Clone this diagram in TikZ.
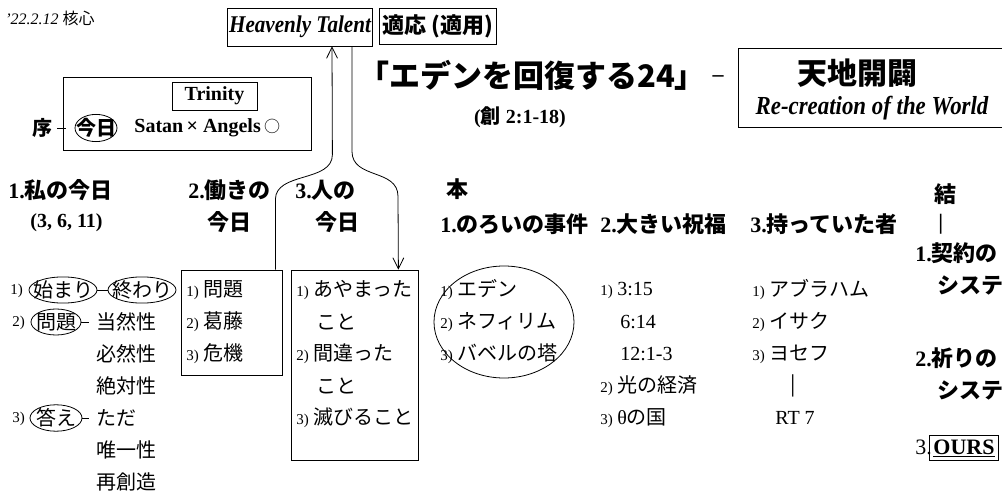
\documentclass[tikz,border=0pt]{standalone}
\usepackage{fontspec}
\setmainfont{Liberation Serif}
\newfontfamily\jp{Noto Sans CJK JP}
\newfontfamily\narrow[FakeStretch=0.88]{Liberation Serif}
\usetikzlibrary{shapes.geometric,arrows.meta}
\newcommand{\nb}[1]{{\rmfamily\fontsize{15}{16}\selectfont #1)}}

\begin{document}
\begin{tikzpicture}[x=1pt,y=-1pt, line width=0.8pt,
	every node/.style={inner sep=0pt},
	txt/.style={anchor=west,font=\fontsize{20}{22}\selectfont\jp},
	head/.style={anchor=west,font=\fontsize{22}{24}\selectfont\bfseries},
	box/.style={draw,inner sep=3pt},
	oval/.style={draw,ellipse,inner xsep=-8pt,inner ysep=0pt,font=\fontsize{20}{22}\selectfont\jp},
	arr/.style={-{Straight Barb[length=11pt,width=11pt]}}]

	\useasboundingbox (0,0) rectangle (1002,495);

	% top line
	\node[anchor=west,font=\fontsize{16}{18}\selectfont\itshape] (date) at (5,18) {’22.2.12 {\jp\upshape 核心}};
	\node[box,inner xsep=2pt,minimum width=144,minimum height=38,font=\narrow\fontsize{24}{26}\selectfont\bfseries\itshape] (ht) at (300,27) {Heavenly Talent};
	\node[box,minimum width=114,minimum height=36,font=\fontsize{22}{24}\selectfont\bfseries\jp] (tekio) at (438,26) {適応 (適用)};
	\node[font=\fontsize{31}{33}\selectfont\bfseries\jp] (title) at (532,75) {「エデンを回復する24」};
	\node[font=\fontsize{22}{24}\selectfont\bfseries] (dash) at (718,79) {–};
	\node[box,minimum width=274,minimum height=79] (sozo) at (875,87.5) {};
	\node[font=\fontsize{30}{32}\selectfont\bfseries\jp] (tenchi) at (857,73) {天地開闢};
	\node[font=\narrow\fontsize{26}{28}\selectfont\bfseries\itshape] (recre) at (872,108) {Re-creation of the World};
	\node[font=\fontsize{20}{22}\selectfont\bfseries] (ref) at (520,117) {({\jp 創} 2:1-18)};

	% intro
	\node[box,minimum width=248,minimum height=73] (intro) at (187,113.5) {};
	\node[box,minimum width=85,minimum height=28,font=\fontsize{20}{22}\selectfont\bfseries] (trin) at (214.5,96) {Trinity};
	\node[font=\fontsize{20}{22}\selectfont\bfseries\jp] (jo) at (42,128) {序};
	\draw ([xshift=5pt]jo.east) -- ([xshift=3pt]jo.east -| intro.west);
	\node[oval,minimum width=42,minimum height=27,font=\fontsize{20}{22}\selectfont\bfseries\jp] (kyo) at (96,128) {今日};
	\node[anchor=west,font=\fontsize{20}{22}\selectfont\bfseries] (sa) at (134,128) {Satan\,× Angels\,{\jp\mdseries\fontsize{16}{18}\selectfont ○}};

	% headings
	\node[head] (h1) at (8,190) {1.{\jp 私の今日}};
	\node[head,font=\fontsize{20}{22}\selectfont\bfseries] (h1b) at (30,223) {(3, 6, 11)};
	\node[head] (h2) at (188,190) {2.{\jp 働きの}};
	\node[head] (h2b) at (207,222) {\jp 今日};
	\node[head] (h3) at (295,190) {3.{\jp 人の}};
	\node[head] (h3b) at (315,222) {\jp 今日};
	\node[head] (hon) at (446,189) {\jp 本};
	\node[head] (b1) at (440,224) {1.{\jp のろいの事件}};
	\node[head] (b2) at (600,224) {2.{\jp 大きい祝福}};
	\node[head] (b3) at (750,224) {3.{\jp 持っていた者}};
	\node[head] (ketsu) at (934,194) {\jp 結};
	\node[head] (bar) at (938,224) {|};
	\node[head] (k1) at (915,253) {1.{\jp 契約の}};
	\node[head] (k1b) at (937,285) {\jp システム};
	\node[head] (k2) at (915,358) {2.{\jp 祈りの}};
	\node[head] (k2b) at (937,390) {\jp システム};
	\node[head,font=\fontsize{22}{24}\selectfont] (k3) at (915,447) {3.};
	\node[box,anchor=west,inner sep=4pt,font=\fontsize{22}{24}\selectfont\bfseries] (ours) at (929,448) {\underline{OURS}};

	% column 1
	\node[txt] (n1) at (10,291) {\nb{1}};
	\node[oval,minimum width=68,minimum height=26] (hajime) at (63,290) {始まり};
	\node[oval,minimum width=68,minimum height=26] (owari) at (142,290) {終わり};
	\draw (hajime) -- (owari);
	\node[txt] (n2) at (12,323) {\nb{2}};
	\node[oval,minimum width=50,minimum height=26] (mon) at (56,322) {問題};
	\node[txt] (p1) at (96,322) {当然性};
	\draw (mon) -- ([xshift=-7pt]p1.west);
	\node[txt] (p2) at (96,354) {必然性};
	\node[txt] (p3) at (96,386) {絶対性};
	\node[txt] (n3) at (12,419) {\nb{3}};
	\node[oval,minimum width=52,minimum height=26] (kotae) at (56,418) {答え};
	\node[txt] (q1) at (96,418) {ただ};
	\draw (kotae) -- ([xshift=-7pt]q1.west);
	\node[txt] (q2) at (96,450) {唯一性};
	\node[txt] (q3) at (96,482) {再創造};

	% column 2 and 3
	\node[box,minimum width=101,minimum height=105] (work) at (231.5,322.5) {};
	\node[txt] (w1) at (186,290) {\nb{1} 問題};
	\node[txt] (w2) at (186,322) {\nb{2} 葛藤};
	\node[txt] (w3) at (186,354) {\nb{3} 危機};
	\node[box,minimum width=127,minimum height=190] (hum) at (354.5,365) {};
	\node[txt] (m1) at (296,290) {\nb{1} あやまった};
	\node[txt] (m1b) at (316,322) {こと};
	\node[txt] (m2) at (296,354) {\nb{2} 間違った};
	\node[txt] (m2b) at (316,386) {こと};
	\node[txt] (m3) at (296,418) {\nb{3} 滅びること};

	% main body
	\node[draw,ellipse,minimum width=140,minimum height=112] (curse) at (504,322) {};
	\node[txt] (c1) at (440,290) {\nb{1} エデン};
	\node[txt] (c2) at (440,322) {\nb{2} ネフィリム};
	\node[txt] (c3) at (440,354) {\nb{3} バベルの塔};
	\node[txt] (s1) at (600,290) {\nb{1} {\rmfamily 3:15}};
	\node[txt,font=\fontsize{20}{22}\selectfont] (s1b) at (620,322) {6:14};
	\node[txt,font=\fontsize{20}{22}\selectfont] (s1c) at (620,354) {12:1-3};
	\node[txt] (s2) at (600,386) {\nb{2} 光の経済};
	\node[txt] (s3) at (600,418) {\nb{3} {\rmfamily θ}の国};
	\node[txt] (r1) at (752,290) {\nb{1} アブラハム};
	\node[txt] (r2) at (752,322) {\nb{2} イサク};
	\node[txt] (r3) at (752,354) {\nb{3} ヨセフ};
	\node[txt] (rbar) at (790,386) {|};
	\node[txt,font=\fontsize{20}{22}\selectfont] (rt) at (775,418) {RT 7};

	% arrows
	\draw[arr] ([xshift=-7pt]work.north east) -- ++(0,-70)
		.. controls +(0,-28) and +(0,28) .. ++(57,-45) -- ([xshift=32pt]ht.south);
	\draw[arr] ([xshift=52pt]ht.south) -- ++(0,105)
		.. controls +(0,28) and +(0,-28) .. ++(46,45) -- ([xshift=-20pt]hum.north east);

\end{tikzpicture}
\end{document}
